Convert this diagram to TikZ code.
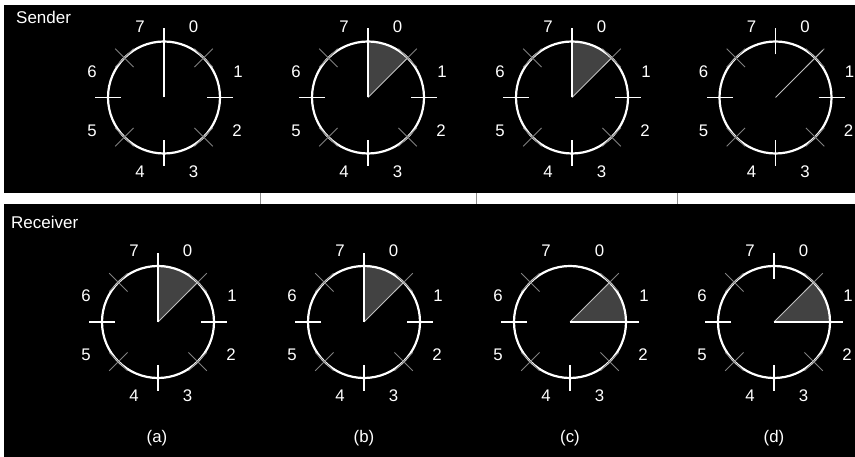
\documentclass[tikz,border=0pt]{standalone}
\usepackage{fontspec}
\setmainfont{Liberation Sans}
\tikzset{
  x=1pt, y=1pt,
  panelbg/.style={fill=black, draw=none},
  gapline/.style={draw=black!45, line width=1pt},
  rim/.style={draw=white, line width=2.2pt},
  cardtick/.style={draw=white, line width=1.8pt},
  diagtick/.style={draw=black!50, line width=0.9pt},
  hand/.style={draw=white, line width=1.8pt},
  thinhand/.style={draw=black!25, line width=0.8pt},
  sector/.style={fill=black!74},
  digit/.style={text=white, font=\fontsize{16.8}{18}\selectfont, inner sep=0pt},
  heading/.style={text=white, font=\fontsize{17}{19}\selectfont, inner sep=0pt, anchor=base west},
}
\newcommand\clockrim{%
  \draw[rim] (0,0) circle (56);
  \foreach \a in {45,135,225,315}{
    \draw[diagtick] (\a:43) -- (\a:69)
      ([shift={(\a+90:13)}]\a:56) -- ([shift={(\a-90:13)}]\a:56);}
  \foreach \a in {0,180,270}{\draw[cardtick] (\a:43) -- (\a:69);}
}
\newcommand\toptick{\draw[cardtick] (90:43) -- (90:69);}
\newcommand\clocknums[1]{%
  \node[digit] (#1n0) at (29.5,71) {0};
  \node[digit] (#1n1) at (74,26) {1};
  \node[digit] (#1n2) at (73,-33) {2};
  \node[digit] (#1n3) at (29.5,-74) {3};
  \node[digit] (#1n4) at (-24,-74) {4};
  \node[digit] (#1n5) at (-72,-33) {5};
  \node[digit] (#1n6) at (-72,26) {6};
  \node[digit] (#1n7) at (-24,71) {7};
}
\newcommand\wedgeup{%
  \fill[sector] (0,0) -- (90:56) arc[start angle=90, end angle=45, radius=56] -- cycle;}
\newcommand\wedgeright{%
  \fill[sector] (0,0) -- (0:56) arc[start angle=0, end angle=45, radius=56] -- cycle;}
\begin{document}
\begin{tikzpicture}
\useasboundingbox (0,0) rectangle (855,457);
\fill[white] (0,0) rectangle (855,457);
% panels
\fill[panelbg] (4,264) rectangle (855,452);
\fill[panelbg] (4,0) rectangle (855,253);
\foreach \gx in {260,476,677}{\draw[gapline] (\gx,253) -- (\gx,264);}
\node[heading] (sender) at (16,433) {Sender};
\node[heading] (receiver) at (11,228) {Receiver};
% centers
\coordinate (sA) at (164,359.5);
\coordinate (sB) at (368,359.5);
\coordinate (sC) at (572,359.5);
\coordinate (sD) at (775.5,359.5);
\coordinate (rA) at (158,135);
\coordinate (rB) at (364,135);
\coordinate (rC) at (570,135);
\coordinate (rD) at (774,135);
% Sender (a)
\begin{scope}[shift={(sA)}]
  \clockrim \toptick
  \draw[hand] (0,0) -- (90:69);
  \clocknums{sa}
\end{scope}
% Sender (b)
\begin{scope}[shift={(sB)}]
  \wedgeup \clockrim \toptick
  \draw[thinhand] (0,0) -- (45:56);
  \draw[hand] (0,0) -- (90:69);
  \clocknums{sb}
\end{scope}
% Sender (c)
\begin{scope}[shift={(sC)}]
  \wedgeup \clockrim \toptick
  \draw[thinhand] (0,0) -- (45:56);
  \draw[hand] (0,0) -- (90:69);
  \clocknums{sc}
\end{scope}
% Sender (d)
\begin{scope}[shift={(sD)}]
  \clockrim \toptick
  \draw[thinhand] (0,0) -- (45:67);
  \clocknums{sd}
\end{scope}
% Receiver (a)
\begin{scope}[shift={(rA)}]
  \wedgeup \clockrim \toptick
  \draw[thinhand] (0,0) -- (45:56);
  \draw[hand] (0,0) -- (90:69);
  \clocknums{ra}
\end{scope}
% Receiver (b)
\begin{scope}[shift={(rB)}]
  \wedgeup \clockrim \toptick
  \draw[thinhand] (0,0) -- (45:56);
  \draw[hand] (0,0) -- (90:69);
  \clocknums{rb}
\end{scope}
% Receiver (c)
\begin{scope}[shift={(rC)}]
  \wedgeright \clockrim
  \draw[thinhand] (0,0) -- (45:56);
  \draw[hand] (0,0) -- (0:69);
  \clocknums{rc}
\end{scope}
% Receiver (d)
\begin{scope}[shift={(rD)}]
  \wedgeright \clockrim \toptick
  \draw[thinhand] (0,0) -- (45:56);
  \draw[hand] (0,0) -- (0:69);
  \clocknums{rd}
\end{scope}
% captions
\node[digit] (capa) at (157,19) {(a)};
\node[digit] (capb) at (364,19) {(b)};
\node[digit] (capc) at (570,19) {(c)};
\node[digit] (capd) at (774,19) {(d)};
\end{tikzpicture}
\end{document}
